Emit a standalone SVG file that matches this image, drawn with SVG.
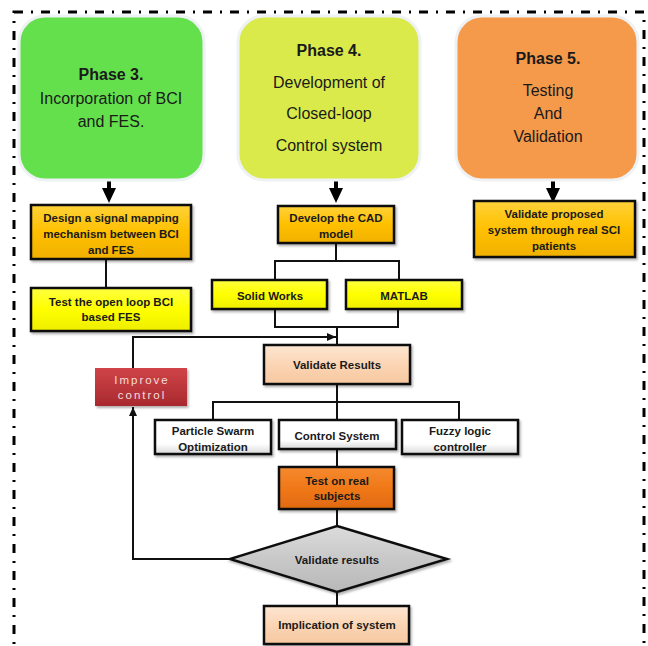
<svg xmlns="http://www.w3.org/2000/svg" width="648" height="646" viewBox="0 0 648 646">
<defs>
<style>
.phase{stroke:#eef2f4;stroke-width:3}
.ptitle{font-family:"Liberation Sans",Arial,sans-serif;font-size:16px;font-weight:bold;fill:#1a1a1a;text-anchor:middle}
.pbody{font-family:"Liberation Sans",Arial,sans-serif;font-size:16px;fill:#1a1a1a;text-anchor:middle}
.box{stroke:#111;stroke-width:2.5}
.lbl{font-family:"Liberation Sans",Arial,sans-serif;font-size:11.5px;font-weight:bold;fill:#1a1a1a;text-anchor:middle}
.imp{font-family:"Liberation Sans",Arial,sans-serif;font-size:11.5px;fill:#f6dede;text-anchor:middle;letter-spacing:2px}
.conn{fill:none;stroke:#111;stroke-width:2}
.thick{fill:none;stroke:#000;stroke-width:4}
</style>
<linearGradient id="gGold" x1="0" y1="0" x2="0" y2="1"><stop offset="0" stop-color="#ffd23a"/><stop offset="0.5" stop-color="#ffc000"/><stop offset="1" stop-color="#f0b000"/></linearGradient>
<linearGradient id="gYel" x1="0" y1="0" x2="0" y2="1"><stop offset="0" stop-color="#ffff40"/><stop offset="0.5" stop-color="#ffff00"/><stop offset="1" stop-color="#eeee00"/></linearGradient>
<linearGradient id="gPeach" x1="0" y1="0" x2="0" y2="1"><stop offset="0" stop-color="#fde6d2"/><stop offset="0.5" stop-color="#fcd5b4"/><stop offset="1" stop-color="#f5c8a0"/></linearGradient>
<linearGradient id="gWhite" x1="0" y1="0" x2="0" y2="1"><stop offset="0" stop-color="#ffffff"/><stop offset="0.7" stop-color="#ffffff"/><stop offset="1" stop-color="#d8d8d8"/></linearGradient>
<linearGradient id="gOrange" x1="0" y1="0" x2="0" y2="1"><stop offset="0" stop-color="#f58a30"/><stop offset="0.5" stop-color="#f07818"/><stop offset="1" stop-color="#e06a10"/></linearGradient>
<linearGradient id="gRed" x1="0" y1="0" x2="0" y2="1"><stop offset="0" stop-color="#d04448"/><stop offset="1" stop-color="#a82a2e"/></linearGradient>
<linearGradient id="gGray" x1="0" y1="0" x2="0" y2="1"><stop offset="0" stop-color="#dcdcdc"/><stop offset="0.5" stop-color="#c8c8c8"/><stop offset="1" stop-color="#b8b8b8"/></linearGradient>
<filter id="sh" x="-10%" y="-10%" width="130%" height="140%"><feDropShadow dx="1.5" dy="2" stdDeviation="1.2" flood-color="#000" flood-opacity="0.3"/></filter>
<marker id="bigArrow" viewBox="0 0 15 14" refX="0" refY="7" markerWidth="15" markerHeight="14" markerUnits="userSpaceOnUse" orient="auto"><path d="M0,0 L15,7 L0,14 z" fill="#000"/></marker>
<marker id="arr" viewBox="0 0 9 8" refX="9" refY="4" markerWidth="9" markerHeight="8" markerUnits="userSpaceOnUse" orient="auto"><path d="M0,0 L9,4 L0,8 z" fill="#111"/></marker>
</defs>
<rect width="648" height="646" fill="#fff"/>
<rect x="14" y="12" width="630" height="680" fill="none" stroke="#000" stroke-width="3" stroke-dasharray="9 8 2 8"/>

<g id="connectors">
<line class="thick" x1="109" y1="180" x2="109" y2="188" marker-end="url(#bigArrow)"/>
<line class="thick" x1="336" y1="180" x2="336" y2="188" marker-end="url(#bigArrow)"/>
<line class="thick" x1="553" y1="180" x2="553" y2="188" marker-end="url(#bigArrow)"/>
<line class="conn" x1="106" y1="259" x2="106" y2="288"/>
<path class="conn" d="M336,243 V261 M275,280 V261 H399 V280"/>
<path class="conn" d="M275,309 V327 H398 V309 M337,327 V345"/>
<path class="conn" d="M133,368 V337 H336" marker-end="url(#arr)"/>
<path class="conn" d="M337,384 V402 M213,420 V402 H459 V420 M337,402 V420"/>
<line class="conn" x1="337" y1="449" x2="337" y2="467"/>
<line class="conn" x1="337" y1="509" x2="337" y2="526"/>
<path class="conn" d="M230,559 H133 V407" marker-end="url(#arr)"/>
<line class="conn" x1="337" y1="592" x2="337" y2="606"/>
</g>

<g id="phase3">
<rect class="phase" x="19" y="16" width="185" height="164" rx="26" fill="#64e04c"/>
<text class="ptitle" x="111" y="80">Phase 3.</text>
<text class="pbody" x="111" y="104">Incorporation  of BCI</text>
<text class="pbody" x="111" y="127">and FES.</text>
</g>
<g id="phase4">
<rect class="phase" x="238" y="16" width="182" height="164" rx="26" fill="#d9ea4a"/>
<text class="ptitle" x="329" y="56">Phase 4.</text>
<text class="pbody" x="329" y="88">Development of</text>
<text class="pbody" x="329" y="119">Closed-loop</text>
<text class="pbody" x="329" y="151">Control system</text>
</g>
<g id="phase5">
<rect class="phase" x="456" y="16" width="182" height="164" rx="26" fill="#f5994a"/>
<text class="ptitle" x="548" y="64">Phase 5.</text>
<text class="pbody" x="548" y="96">Testing</text>
<text class="pbody" x="548" y="119">And</text>
<text class="pbody" x="548" y="142">Validation</text>
</g>

<g id="designMapping">
<rect class="box" x="31" y="205" width="160" height="54" fill="url(#gGold)" filter="url(#sh)"/>
<text class="lbl" x="111" y="222">Design a signal mapping</text>
<text class="lbl" x="111" y="238">mechanism between BCI</text>
<text class="lbl" x="111" y="254">and FES</text>
</g>
<g id="testOpenLoop">
<rect class="box" x="31" y="288" width="160" height="43" fill="url(#gYel)" filter="url(#sh)"/>
<text class="lbl" x="111" y="306">Test the open loop BCI</text>
<text class="lbl" x="111" y="321">based FES</text>
</g>
<g id="cadModel">
<rect class="box" x="278" y="206" width="116" height="37" fill="url(#gGold)" filter="url(#sh)"/>
<text class="lbl" x="336" y="222">Develop the CAD</text>
<text class="lbl" x="336" y="238">model</text>
</g>
<g id="validateSCI">
<rect class="box" x="474" y="201" width="161" height="56" fill="url(#gGold)" filter="url(#sh)"/>
<text class="lbl" x="554" y="218">Validate proposed</text>
<text class="lbl" x="554" y="234">system through real SCI</text>
<text class="lbl" x="554" y="250">patients</text>
</g>
<g id="solidWorks">
<rect class="box" x="212" y="280" width="115" height="29" fill="url(#gYel)" filter="url(#sh)"/>
<text class="lbl" x="270" y="300">Solid Works</text>
</g>
<g id="matlab">
<rect class="box" x="346" y="280" width="116" height="29" fill="url(#gYel)" filter="url(#sh)"/>
<text class="lbl" x="404" y="300">MATLAB</text>
</g>
<g id="validateResults">
<rect class="box" x="264" y="345" width="146" height="39" fill="url(#gPeach)" filter="url(#sh)"/>
<text class="lbl" x="337" y="369">Validate Results</text>
</g>
<g id="improveControl">
<rect x="95" y="368" width="92" height="38" fill="url(#gRed)" filter="url(#sh)"/>
<text class="imp" x="142" y="384">Improve</text>
<text class="imp" x="142" y="399">control</text>
</g>
<g id="pso">
<rect class="box" x="155" y="420" width="116" height="34" fill="url(#gWhite)" filter="url(#sh)"/>
<text class="lbl" x="213" y="435">Particle Swarm</text>
<text class="lbl" x="213" y="451">Optimization</text>
</g>
<g id="controlSystem">
<rect class="box" x="279" y="420" width="117" height="29" fill="url(#gWhite)" filter="url(#sh)"/>
<text class="lbl" x="337" y="440">Control System</text>
</g>
<g id="fuzzy">
<rect class="box" x="402" y="420" width="116" height="34" fill="url(#gWhite)" filter="url(#sh)"/>
<text class="lbl" x="460" y="435">Fuzzy logic</text>
<text class="lbl" x="460" y="451">controller</text>
</g>
<g id="testReal">
<rect class="box" x="279" y="467" width="115" height="42" fill="url(#gOrange)" filter="url(#sh)"/>
<text class="lbl" x="337" y="485">Test on real</text>
<text class="lbl" x="337" y="500">subjects</text>
</g>
<g id="validateDecision">
<polygon class="box" points="337,526 447,559 337,592 230,559" fill="url(#gGray)" filter="url(#sh)"/>
<text class="lbl" x="337" y="564" fill="#2a2a3a">Validate results</text>
</g>
<g id="implication">
<rect class="box" x="264" y="606" width="145" height="38" fill="url(#gPeach)" filter="url(#sh)"/>
<text class="lbl" x="337" y="629">Implication of system</text>
</g>
</svg>
